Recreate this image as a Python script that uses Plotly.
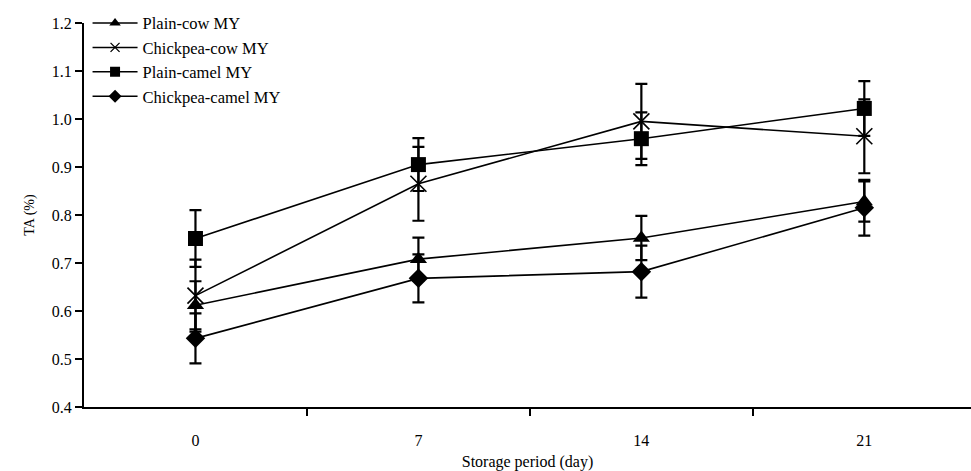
import plotly.graph_objects as go

days = [0, 7, 14, 21]
tick_labels = ["0", "7", "14", "21"]
series_names = ["Plain-cow MY", "Chickpea-cow MY", "Plain-camel MY", "Chickpea-camel MY"]
plain_cow = [0.612, 0.708, 0.752, 0.828]
plain_cow_err = [0.050, 0.045, 0.046, 0.042]
chickpea_cow = [0.632, 0.865, 0.995, 0.964]
chickpea_cow_err = [0.075, 0.077, 0.078, 0.077]
plain_camel = [0.751, 0.905, 0.959, 1.022]
plain_camel_err = [0.059, 0.055, 0.055, 0.057]
chickpea_camel = [0.543, 0.668, 0.682, 0.815]
chickpea_camel_err = [0.052, 0.050, 0.054, 0.058]
y_ticks = [0.4, 0.5, 0.6, 0.7, 0.8, 0.9, 1.0, 1.1, 1.2]

FONT = "Liberation Serif, Times New Roman, serif"

symbols = ["triangle-up", "x-thin", "square", "diamond"]
sizes = [15, 16, 15, 15]
legend_sizes = [10, 9, 10, 10]
vals = [plain_cow, chickpea_cow, plain_camel, chickpea_camel]
errs = [plain_cow_err, chickpea_cow_err, plain_camel_err, chickpea_camel_err]

fig = go.Figure()
for name, v, e, sym, sz in zip(series_names, vals, errs, symbols, sizes):
    mline = dict(width=1.6, color="black") if sym == "x-thin" else dict(width=0)
    fig.add_trace(go.Scatter(
        x=days, y=v, name=name, mode="lines+markers", showlegend=False,
        line=dict(color="black", width=1.6),
        marker=dict(color="black", symbol=sym, size=sz, line=mline),
        error_y=dict(type="data", array=e, visible=True, color="black",
                     thickness=2.2, width=6),
    ))
# legend-only entries (same series, smaller symbols as in the reference key)
for name, sym, sz in zip(series_names, symbols, legend_sizes):
    mline = dict(width=1.3, color="black") if sym == "x-thin" else dict(width=0)
    fig.add_trace(go.Scatter(
        x=[None], y=[None], name=name, mode="lines+markers",
        line=dict(color="black", width=1.5),
        marker=dict(color="black", symbol=sym, size=sz, line=mline),
    ))

fig.update_layout(
    width=971, height=471,
    margin=dict(l=84, r=0, t=23, b=64),
    paper_bgcolor="white", plot_bgcolor="white",
    font=dict(family=FONT, color="black", size=16),
    showlegend=True,
    legend=dict(x=0.004, y=1.045, xanchor="left", yanchor="top",
                bgcolor="rgba(0,0,0,0)", font=dict(family=FONT, size=16.5),
                itemwidth=45, tracegroupgap=0),
    xaxis=dict(
        range=[-3.5, 24.35], showgrid=False, zeroline=False,
        showline=True, linecolor="black", linewidth=2,
        tickvals=days, ticktext=tick_labels, ticks="",
        ticklabelstandoff=18,
        tickfont=dict(family=FONT, size=16),
        minor=dict(tickvals=[3.5, 10.5, 17.5], ticks="outside", ticklen=7,
                   tickwidth=2, tickcolor="black", showgrid=False),
        title=dict(text="Storage period (day)", font=dict(family=FONT, size=16), standoff=8),
    ),
    yaxis=dict(
        range=[0.4, 1.2], showgrid=False, zeroline=False,
        showline=True, linecolor="black", linewidth=2,
        tickvals=y_ticks, tickformat=".1f", ticks="outside", ticklen=7,
        tickwidth=2, tickcolor="black",
        tickfont=dict(family=FONT, size=16),
        title=dict(text="TA (%)", font=dict(family=FONT, size=14), standoff=14),
    ),
)

fig.write_html("out.html")
